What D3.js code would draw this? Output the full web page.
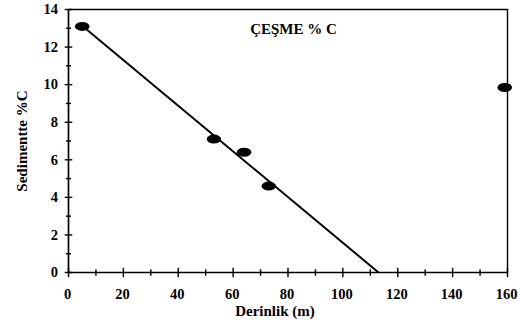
<!DOCTYPE html>
<html>
<head>
<meta charset="utf-8">
<script src="https://cdn.jsdelivr.net/npm/d3@7"></script>
<style>
  body { margin: 0; background: #fff; }
  text { font-family: "Liberation Serif", "Times New Roman", serif; font-weight: bold; fill: #000; }
</style>
</head>
<body>
<svg id="chart" width="520" height="327"></svg>
<script>
// measured points (depth m, %C)
const depth = [5, 53, 64, 73, 159];
const carbon = [13.1, 7.1, 6.4, 4.6, 9.85];
// fitted line end points
const fitX = [5.3, 113];
const fitY = [13.1, 0];
const xTicks = [0, 20, 40, 60, 80, 100, 120, 140, 160];
const yTicks = [0, 2, 4, 6, 8, 10, 12, 14];

const padding = { top: 9.5, bottom: 54.5, left: 68.5, right: 12.5 };
const width = 520, height = 327;
const chartWidth = width - padding.left - padding.right;
const chartHeight = height - padding.top - padding.bottom;

const svg = d3.select('#chart');
const chart = svg.append('g')
  .attr('transform', `translate(${padding.left}, ${padding.top})`);

const x = d3.scaleLinear().domain([0, 160]).range([0, chartWidth]);
const y = d3.scaleLinear().domain([0, 14]).range([chartHeight, 0]);

// frame (top + right)
chart.append('path')
  .attr('d', `M0,0H${chartWidth}V${chartHeight}`)
  .attr('fill', 'none')
  .attr('stroke', '#000')
  .attr('stroke-width', 1.4);

// x axis: ticks cross the line
const xAxis = chart.append('g').attr('transform', `translate(0, ${chartHeight})`);
xAxis.append('line').attr('x1', 0).attr('x2', chartWidth).attr('stroke', '#000').attr('stroke-width', 1.7);
xAxis.selectAll('.minor')
  .data(d3.range(10, 160, 20))
  .join('line')
  .attr('x1', d => x(d)).attr('x2', d => x(d))
  .attr('y1', -3.3).attr('y2', 3.3)
  .attr('stroke', '#000').attr('stroke-width', 1.4);
xAxis.selectAll('.major')
  .data(xTicks)
  .join('line')
  .attr('x1', d => x(d)).attr('x2', d => x(d))
  .attr('y1', -4.7).attr('y2', 4.7)
  .attr('stroke', '#000').attr('stroke-width', 1.4);
xAxis.selectAll('text')
  .data(xTicks)
  .join('text')
  .attr('x', d => x(d) - 1)
  .attr('y', 26.8)
  .attr('text-anchor', 'middle')
  .attr('font-size', 14.5)
  .text(d => d);

// y axis
const yAxis = chart.append('g');
yAxis.append('line').attr('y1', 0).attr('y2', chartHeight).attr('stroke', '#000').attr('stroke-width', 1.7);
yAxis.selectAll('.minor')
  .data(d3.range(1, 14, 2))
  .join('line')
  .attr('y1', d => y(d)).attr('y2', d => y(d))
  .attr('x1', -2.5).attr('x2', 2.5)
  .attr('stroke', '#000').attr('stroke-width', 1.4);
yAxis.selectAll('.major')
  .data(yTicks)
  .join('line')
  .attr('y1', d => y(d)).attr('y2', d => y(d))
  .attr('x1', -3.8).attr('x2', 3.8)
  .attr('stroke', '#000').attr('stroke-width', 1.4);
yAxis.selectAll('text')
  .data(yTicks)
  .join('text')
  .attr('x', -10.5)
  .attr('y', d => y(d) + 4.8)
  .attr('text-anchor', 'end')
  .attr('font-size', 14.5)
  .text(d => d);

// axis titles
svg.append('text')
  .attr('x', 275)
  .attr('y', 316)
  .attr('text-anchor', 'middle')
  .attr('font-size', 15)
  .text('Derinlik (m)');
svg.append('text')
  .attr('transform', `translate(26.5, 141) rotate(-90)`)
  .attr('text-anchor', 'middle')
  .attr('font-size', 15)
  .text('Sedimentte %C');

// chart title
chart.append('text')
  .attr('x', x(82))
  .attr('y', 24.5)
  .attr('text-anchor', 'middle')
  .attr('font-size', 15)
  .text('ÇEŞME % C');

// fit line
chart.append('line')
  .attr('x1', x(fitX[0])).attr('y1', y(fitY[0]))
  .attr('x2', x(fitX[1])).attr('y2', y(fitY[1]))
  .attr('stroke', '#000')
  .attr('stroke-width', 2);

// points
chart.selectAll('.pt')
  .data(depth.map((d, i) => ({ d, c: carbon[i] })))
  .join('ellipse')
  .attr('class', 'pt')
  .attr('cx', p => x(p.d))
  .attr('cy', p => y(p.c))
  .attr('rx', 7.3)
  .attr('ry', 4.5)
  .attr('fill', '#000');
</script>
</body>
</html>
